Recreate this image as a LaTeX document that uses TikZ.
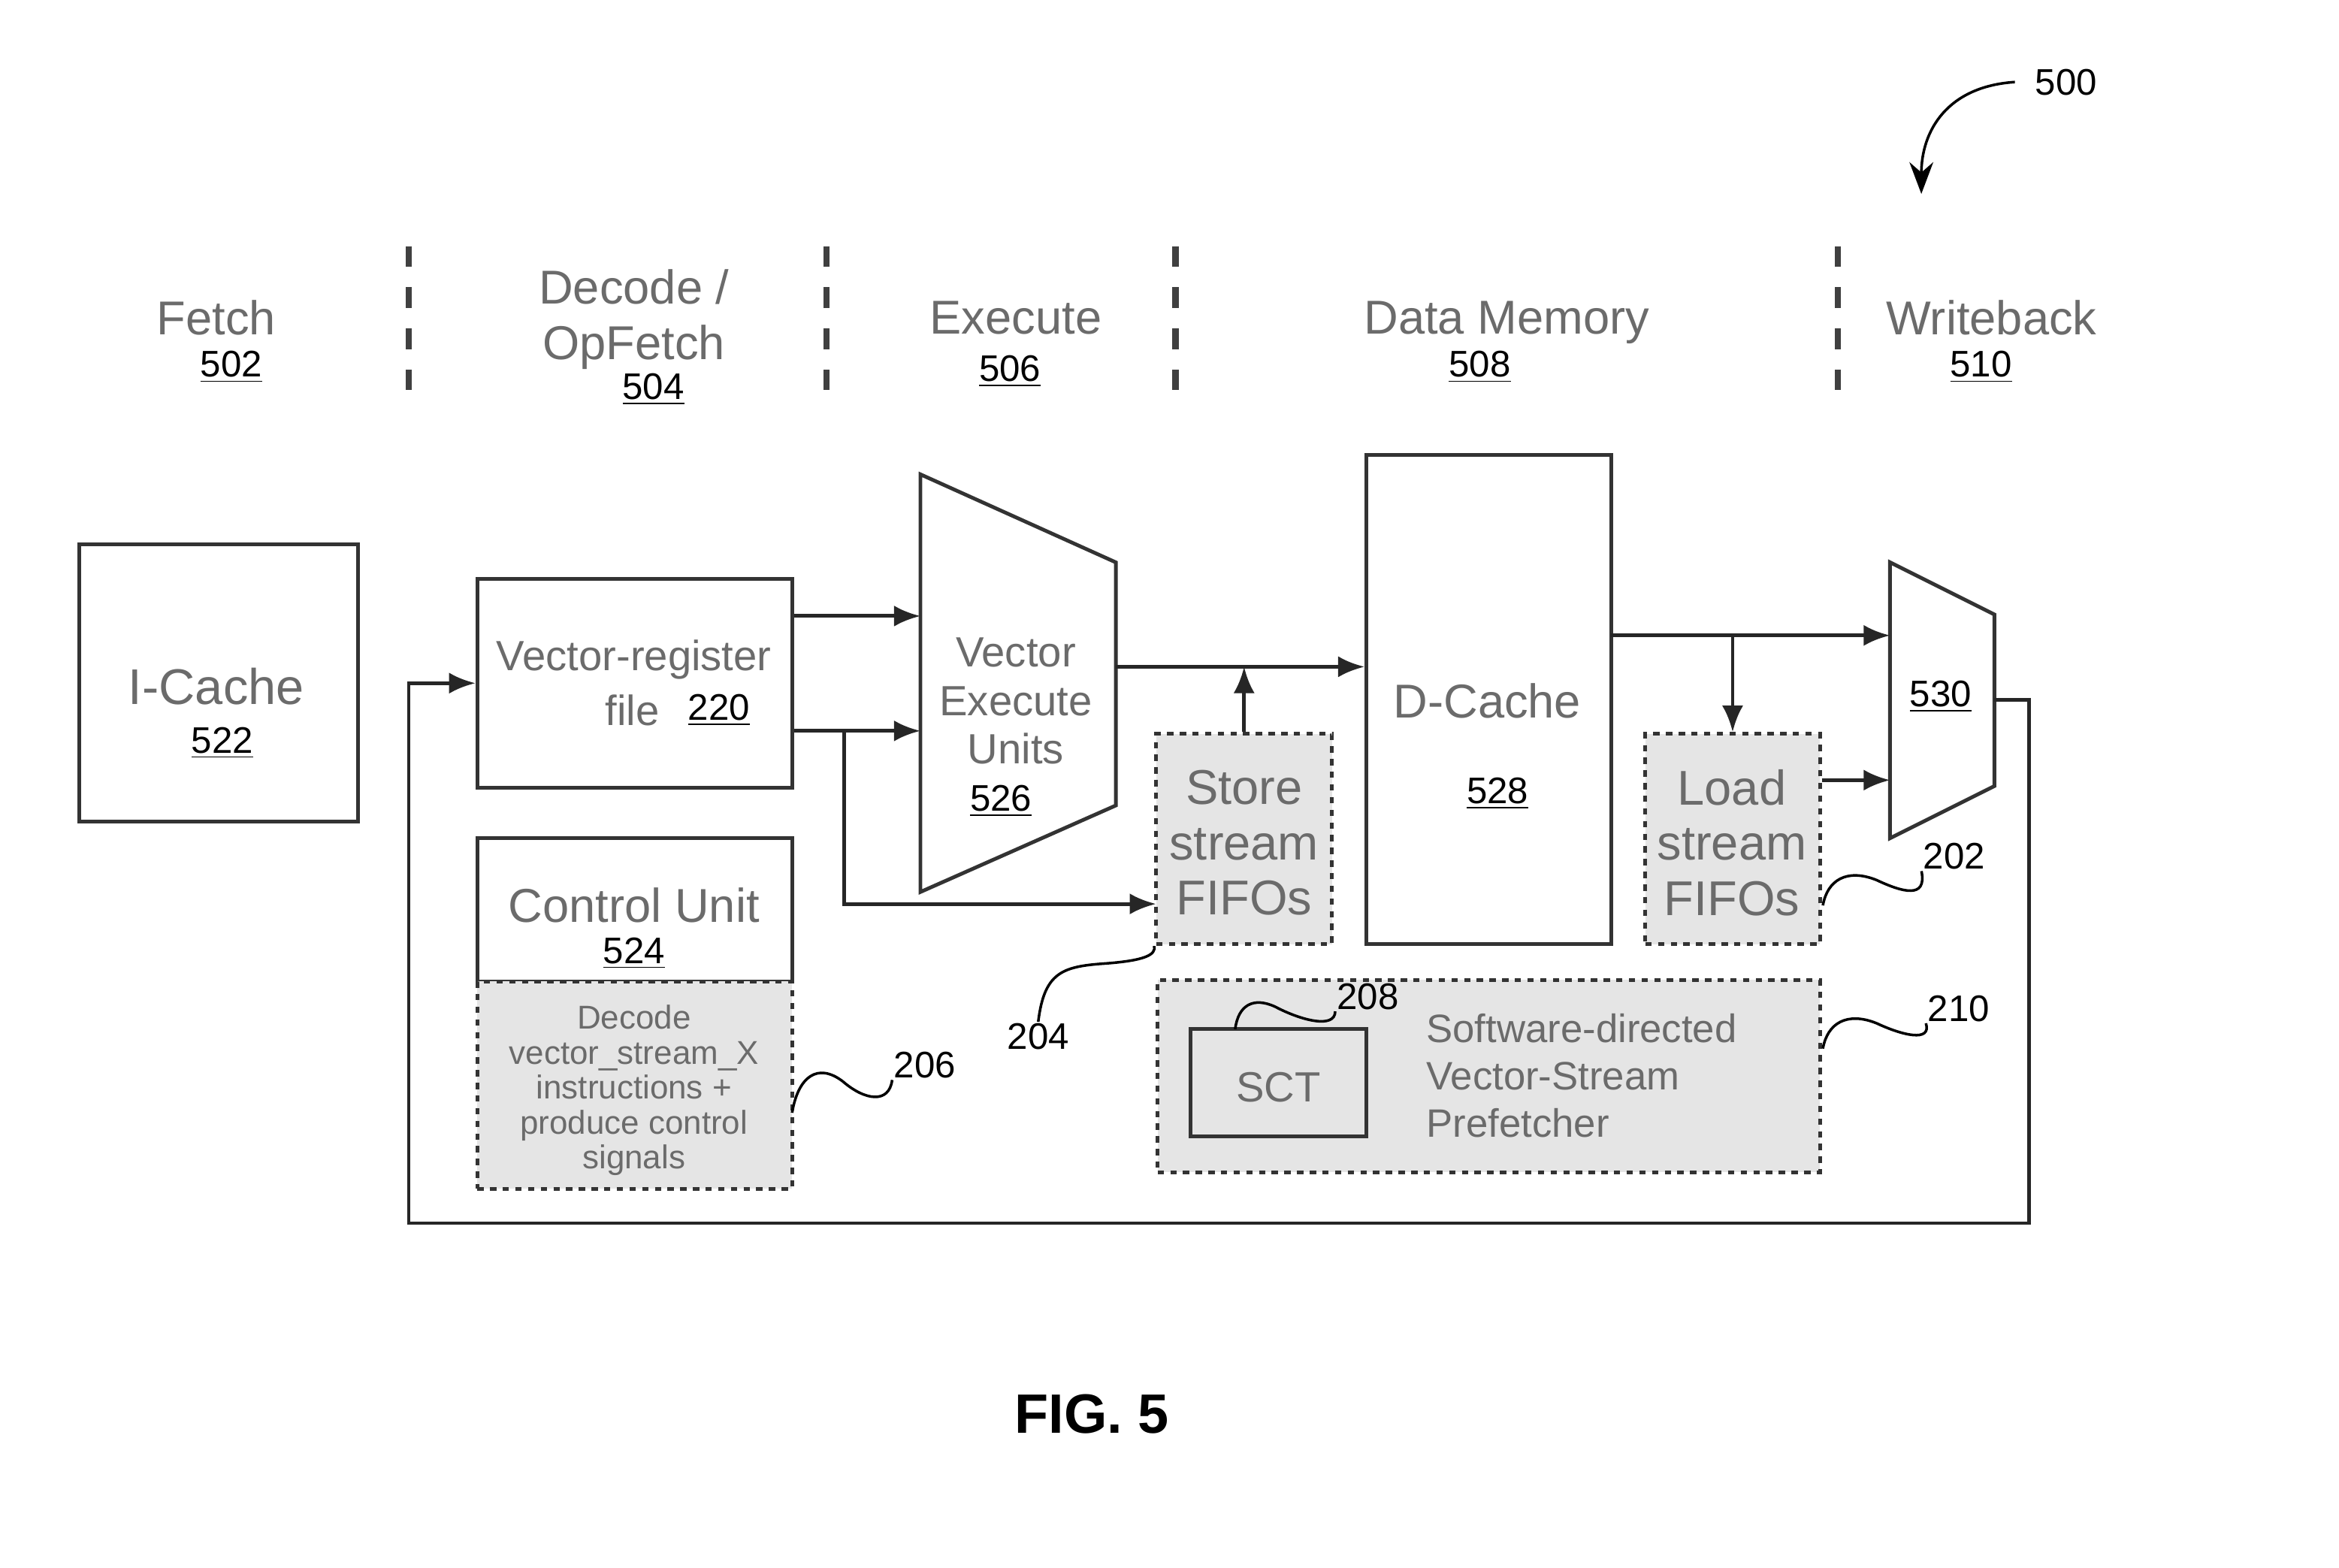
\documentclass[tikz,border=0pt]{standalone}
\usepackage{fontspec}
\setmainfont{Liberation Sans}
\usetikzlibrary{arrows.meta,positioning,fit}

\begin{document}
\begin{tikzpicture}[
  x=0.01985cm, y=-0.01985cm,
  line width=1.4pt,
  box/.style={draw=black!80, inner sep=0pt},
  shaded/.style={draw=black!80, fill=black!10, dash pattern=on 2.4pt off 2.4pt, inner sep=0pt},
  lbl/.style={text=black!58, align=center, inner sep=0pt, font=\fontsize{18}{21}\selectfont},
  num/.style={inner sep=0pt, font=\fontsize{14}{16}\selectfont},
  arr/.style={draw=black!85, -{Latex[length=10pt,width=8pt]}},
  lead/.style={draw=black, line width=1pt},
  stagesep/.style={draw=black!75, line width=2.4pt, dash pattern=on 7.8pt off 7.8pt}
]
\useasboundingbox (0,0) rectangle (1568,1051);

% pipeline stages
\node[lbl] (fetch) at (145,213) {Fetch};
\node[num] (n502) at (155,246) {\underline{502}};
\node[lbl] (opfetch) at (425,214) {Decode /\\OpFetch};
\node[num] (n504) at (438,261) {\underline{504}};
\node[lbl] (exec) at (681,213) {Execute};
\node[num] (n506) at (677,249) {\underline{506}};
\node[lbl] (dmem) at (1010,216) {Data Memory};
\node[num] (n508) at (992,246) {\underline{508}};
\node[lbl] (wback) at (1335,213) {Writeback};
\node[num] (n510) at (1328,246) {\underline{510}};
\foreach \sx in {274,554,788,1232}
  \draw[stagesep] (\sx,165) -- (\sx,262);

% figure reference
\node[num] (n500) at (1385,55) {500};
\coordinate (fig500) at (1288,130);
\draw[lead, -{Stealth[length=12pt,width=9pt]}] ([xshift=-7pt]n500.west) .. controls (1305,58) and (1288,88) .. (fig500);

% blocks
\node[box, fit={(53,365) (240,551)}] (icache) {};
\node[lbl, font=\fontsize{19}{22}\selectfont] (ictxt) at (145,460) {I-Cache};
\node[num] (n522) at (149,498) {\underline{522}};

\node[box, fit={(320,388) (531,528)}] (rf) {};
\node[lbl, font=\fontsize{16}{19}\selectfont] (rftxt) at (425,442) {Vector-register};
\node[lbl, font=\fontsize{16}{19}\selectfont] (rffile) at (424,476) {file};
\node[num] (n220) at (482,476) {\underline{220}};

\node[box, fit={(320,562) (531,658)}] (cu) {};
\node[lbl] (cutxt) at (425,607) {Control Unit};
\node[num] (n524) at (425,639) {\underline{524}};
\node[shaded, fit={(320,658) (531,797)}] (dec) {};
\node[lbl, font=\fontsize{12.5}{13.2}\selectfont] (dectxt) at (425,731)
  {Decode\\vector\_stream\_X\\instructions +\\produce control\\signals};

\draw[box, fill=white] (617,318) -- (748,377) -- (748,540) -- (617,598) -- cycle;
\node[lbl, font=\fontsize{16}{18.3}\selectfont] (veu) at (681,470) {Vector\\Execute\\Units};
\node[num] (n526) at (671,537) {\underline{526}};

\node[shaded, fit={(775,492) (893,633)}] (sff) {};
\node[lbl, font=\fontsize{18.5}{21}\selectfont] (sfftxt) at (834,565) {Store\\stream\\FIFOs};

\node[box, fit={(916,305) (1080,633)}] (dc) {};
\node[lbl] (dctxt) at (997,470) {D-Cache};
\node[num] (n528) at (1004,532) {\underline{528}};

\node[shaded, fit={(1103,492) (1220,633)}] (lff) {};
\node[lbl, font=\fontsize{18.5}{21}\selectfont] (lfftxt) at (1161,565) {Load\\stream\\FIFOs};

\draw[box, fill=white] (1267,377) -- (1337,412) -- (1337,527) -- (1267,562) -- cycle;
\node[num] (n530) at (1301,467) {\underline{530}};

\node[shaded, fit={(776,657) (1220,786)}] (pf) {};
\node[box, fit={(798,690) (916,762)}] (sct) {};
\node[lbl, font=\fontsize{16}{19}\selectfont] (scttxt) at (857,729) {SCT};
\node[lbl, align=left, anchor=west, font=\fontsize{15}{18}\selectfont] (pftxt) at (955,721)
  {Software-directed\\Vector-Stream\\Prefetcher};

% connectors
\coordinate (veuA) at (617,413);
\coordinate (veuB) at (617,490);
\coordinate (tap1) at (566,490);
\coordinate (sffin) at (775,606);
\coordinate (veuout) at (748,447);
\coordinate (dcout) at (1080,426);
\coordinate (muxA) at (1267,426);
\coordinate (muxB) at (1267,523);
\coordinate (muxout) at (1337,469);

\draw[arr] (rf.east |- veuA) -- (veuA);
\draw[arr] (rf.east |- veuB) -- (veuB);
\draw[arr] (tap1) |- (sffin);
\draw[arr] (veuout) -- (dc.west |- veuout);
\draw[arr] (sff.north) -- (sff.north |- veuout);
\draw[arr] (dcout) -- (muxA);
\draw[arr] (lff.north |- dcout) -- (lff.north);
\draw[arr] (lff.east |- muxB) -- (muxB);
\draw[arr] (muxout) -- (1360,469) -- (1360,820) -- (274,820) -- (274,458) -- (rf.west);

% reference numerals
\node[num] (n204) at (696,695) {204};
\draw[lead] (n204.north) .. controls (700,652) and (712,648) .. (740,646)
  .. controls (768,644) and (775,640) .. (sff.south west);
\node[num] (n206) at (620,714) {206};
\draw[lead] (531,746) .. controls (535,722) and (548,712) .. (565,725)
  .. controls (580,738) and (596,740) .. (n206.south west);
\node[num] (n202) at (1310,574) {202};
\draw[lead] (1222,607) .. controls (1225,590) and (1238,582) .. (1258,590)
  .. controls (1275,598) and (1292,603) .. (n202.south west);
\node[num] (n210) at (1313,676) {210};
\draw[lead] (1222,703) .. controls (1225,686) and (1238,678) .. (1258,686)
  .. controls (1275,694) and (1295,699) .. (n210.south west);
\node[num] (n208) at (917,668) {208};
\draw[lead] (828,690) .. controls (830,674) and (840,668) .. (855,675)
  .. controls (872,684) and (895,690) .. (n208.south west);

\node[font=\fontsize{21}{24}\selectfont\bfseries] (fig) at (732,948) {FIG. 5};
\end{tikzpicture}
\end{document}
